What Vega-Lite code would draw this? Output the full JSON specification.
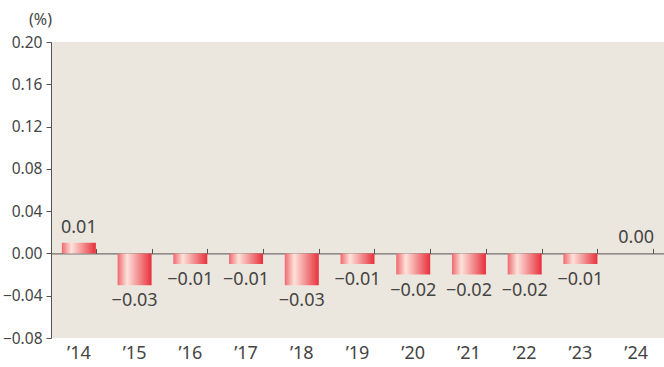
{
  "$schema": "https://vega.github.io/schema/vega-lite/v6.json",
  "autosize": "none",
  "width": 613,
  "height": 296,
  "padding": {"left": 51, "top": 42, "right": 0, "bottom": 29},
  "background": "white",
  "config": {
    "view": {"fill": "#ece7de", "stroke": null},
    "font": "Noto Sans",
    "axis": {"labelFont": "Noto Sans", "labelColor": "#444", "labelFontSize": 15.5, "domainColor": "#555", "tickColor": "#555", "grid": false}
  },
  "data": {
    "values": [
      {"year": "’14", "value": 0.01},
      {"year": "’15", "value": -0.03},
      {"year": "’16", "value": -0.01},
      {"year": "’17", "value": -0.01},
      {"year": "’18", "value": -0.03},
      {"year": "’19", "value": -0.01},
      {"year": "’20", "value": -0.02},
      {"year": "’21", "value": -0.02},
      {"year": "’22", "value": -0.02},
      {"year": "’23", "value": -0.01},
      {"year": "’24", "value": 0.0}
    ]
  },
  "encoding": {
    "x": {"field": "year", "type": "ordinal", "sort": null,
      "scale": {"paddingInner": 0.39, "paddingOuter": 0.195}},
    "y": {"field": "value", "type": "quantitative",
      "scale": {"domain": [-0.08, 0.2], "nice": false, "zero": true}}
  },
  "layer": [
    {
      "mark": {"type": "bar", "fill": {"gradient": "linear", "x1": 0, "x2": 1, "y1": 0, "y2": 0,
        "stops": [{"offset": 0, "color": "#ef6870"}, {"offset": 0.28, "color": "#fde2da"}, {"offset": 1, "color": "#e8303c"}]}},
      "encoding": {
        "x": {"field": "year", "type": "ordinal", "sort": null,
          "axis": {"orient": "bottom", "title": null, "domain": false, "ticks": false, "labelAngle": 0, "labelPadding": 6, "labelFontSize": 18}},
        "y": {"field": "value", "type": "quantitative",
          "axis": {"values": [-0.08, -0.04, 0, 0.04, 0.08, 0.12, 0.16, 0.2], "format": ".2f", "tickSize": 5, "labelPadding": 4, "domain": true,
            "title": "(%)", "titleAngle": 0, "titleAlign": "center", "titleBaseline": "middle", "titleX": -11, "titleY": -23,
            "titleFont": "Noto Sans", "titleFontSize": 16, "titleFontWeight": "normal", "titleColor": "#444"}}
      }
    },
    {
      "transform": [{"filter": "datum.value >= 0"}],
      "mark": {"type": "text", "baseline": "bottom", "dy": -6, "fontSize": 18, "color": "#444"},
      "encoding": {
        "x": {"field": "year", "type": "ordinal", "sort": null,
          "axis": {"orient": "top", "offset": -211.4, "labels": false, "title": null, "domain": true, "ticks": true, "tickBand": "extent", "tickSize": 5}},
        "text": {"field": "value", "type": "quantitative", "format": ".2f"}
      }
    },
    {
      "transform": [{"filter": "datum.value < 0"}],
      "mark": {"type": "text", "baseline": "top", "dy": 7, "fontSize": 18, "color": "#444"},
      "encoding": {
        "x": {"field": "year", "type": "ordinal", "sort": null, "axis": null},
        "text": {"field": "value", "type": "quantitative", "format": ".2f"}
      }
    }
  ],
  "resolve": {"axis": {"x": "independent"}}
}
